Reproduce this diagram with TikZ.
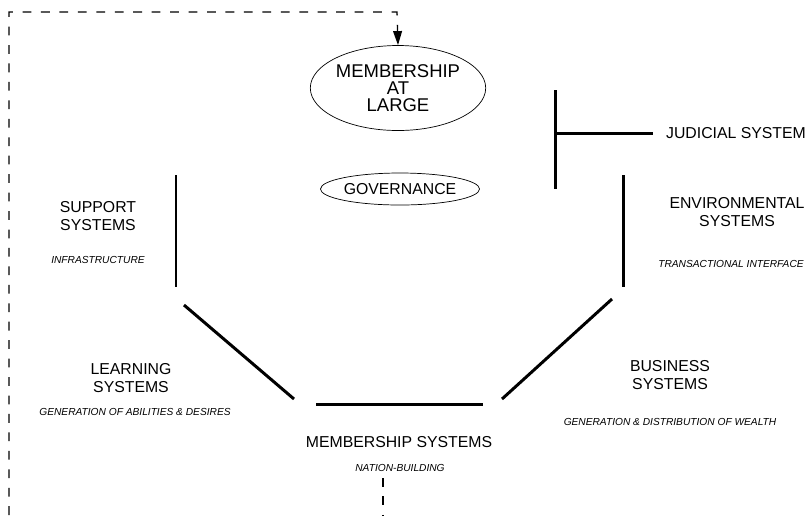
\documentclass[tikz,border=0pt]{standalone}
\usepackage{fontspec}
\setmainfont{Liberation Sans}
\usetikzlibrary{positioning, arrows.meta, calc, shapes.geometric}

\begin{document}
\begin{tikzpicture}[x=0.02cm, y=-0.02cm,
    label/.style={align=center, font=\fontsize{9}{10.5}\selectfont, inner sep=0pt},
    sublabel/.style={font=\fontsize{5.8}{7}\itshape, inner sep=0pt},
    bar/.style={line width=1.7pt},
    loop/.style={dash pattern=on 5pt off 5.5pt, line width=0.75pt}]
  \useasboundingbox (0,0) rectangle (810,515);

  % ellipses in the middle
  \node[draw, ellipse, minimum width=155*0.02cm, minimum height=85*0.02cm, inner sep=0pt,
        align=center, font=\fontsize{10.5}{9.8}\selectfont] (atlarge) at (398,88)
        {MEMBERSHIP\\AT\\LARGE};
  \node[draw, ellipse, minimum width=132*0.02cm, minimum height=32*0.02cm, inner sep=0pt,
        font=\fontsize{9}{10.5}\selectfont] (governance) at (400,189) {GOVERNANCE};

  % the six sides
  \draw[bar] (176,175) -- (176,287);
  \draw[bar] (184,305) -- (294,399);
  \draw[bar] (316,404) -- (483,404);
  \draw[bar] (502,399) -- (612,299);
  \draw[bar] (623,175) -- (623,287);
  \draw[bar] (555,90) -- (555,189);
  \draw[bar] (555,133) -- (653,133);

  % labels
  \node[label] (judicial) at (736,133) {JUDICIAL SYSTEM};
  \node[label] (environ) at (737,212) {ENVIRONMENTAL\\SYSTEMS};
  \node[sublabel] (transact) at (731,264) {TRANSACTIONAL INTERFACE};
  \node[label] (support) at (98,216) {SUPPORT\\SYSTEMS};
  \node[sublabel] (infra) at (98,260) {INFRASTRUCTURE};
  \node[label] (learning) at (131,378) {LEARNING\\SYSTEMS};
  \node[sublabel] (abilities) at (135,412) {GENERATION OF ABILITIES \& DESIRES};
  \node[label] (business) at (670,375) {BUSINESS\\SYSTEMS};
  \node[sublabel] (wealth) at (670,422) {GENERATION \& DISTRIBUTION OF WEALTH};
  \node[label] (membership) at (399,442) {MEMBERSHIP SYSTEMS};
  \node[sublabel] (nation) at (400,468) {NATION-BUILDING};

  % feedback loop
  \coordinate (loopstart) at (9,515);
  \coordinate (loopcorner) at (9,12);
  \coordinate (loopturn) at (397,12);
  \coordinate (tailtop) at (383,478);
  \coordinate (tailend) at (383,515);
  \draw[loop, -{Triangle[length=8pt, width=5pt]}] (loopstart) -- (loopcorner) -- (loopturn) -- (atlarge.north);
  \draw[loop] (tailtop) -- (tailend);
\end{tikzpicture}
\end{document}
